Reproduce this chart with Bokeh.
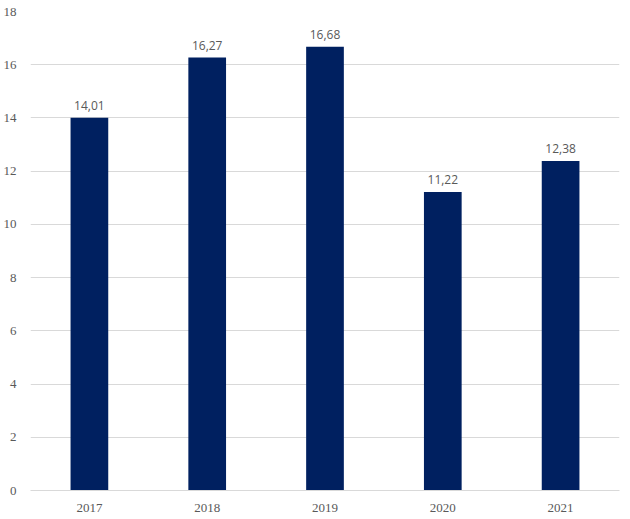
from bokeh.plotting import figure
from bokeh.models import ColumnDataSource, FactorRange, Range1d, FixedTicker
from bokeh.core.properties import value
from bokeh.embed import file_html
from bokeh.resources import INLINE

years = ["2017", "2018", "2019", "2020", "2021"]
values = [14.01, 16.27, 16.68, 11.22, 12.38]
labels = ["14,01", "16,27", "16,68", "11,22", "12,38"]
y_ticks = [0, 2, 4, 6, 8, 10, 12, 14, 16, 18]

src = ColumnDataSource(dict(x=years, top=values, label=labels))

p = figure(width=630, height=519, x_range=FactorRange(factors=years, range_padding=0),
           y_range=Range1d(0, 18), output_backend="svg", toolbar_location=None,
           min_border_left=29, min_border_right=11, min_border_top=11, min_border_bottom=29)
p.outline_line_color = None
p.background_fill_color = "white"
p.border_fill_color = "white"

p.vbar(x="x", top="top", width=0.32, source=src, fill_color="#002060", line_color=None)
p.text(x="x", y="top", text="label", source=src, text_align="center", text_baseline="bottom",
       y_offset=-8, text_font=value("Open Sans"), text_font_size="12px", text_color="#595959")

p.yaxis.ticker = FixedTicker(ticks=y_ticks)
p.ygrid.grid_line_color = "#d9d9d9"
p.xgrid.grid_line_color = None
for ax in (p.xaxis[0], p.yaxis[0]):
    ax.axis_line_color = None
    ax.major_tick_line_color = None
    ax.minor_tick_line_color = None
    ax.major_label_text_font = "Liberation Serif"
    ax.major_label_text_font_size = "13px"
    ax.major_label_text_color = "#595959"
p.xaxis.axis_line_color = "#d9d9d9"
p.xaxis.major_label_standoff = 7
p.yaxis.major_label_standoff = 8

open("out.html", "w").write(file_html(p, INLINE))
